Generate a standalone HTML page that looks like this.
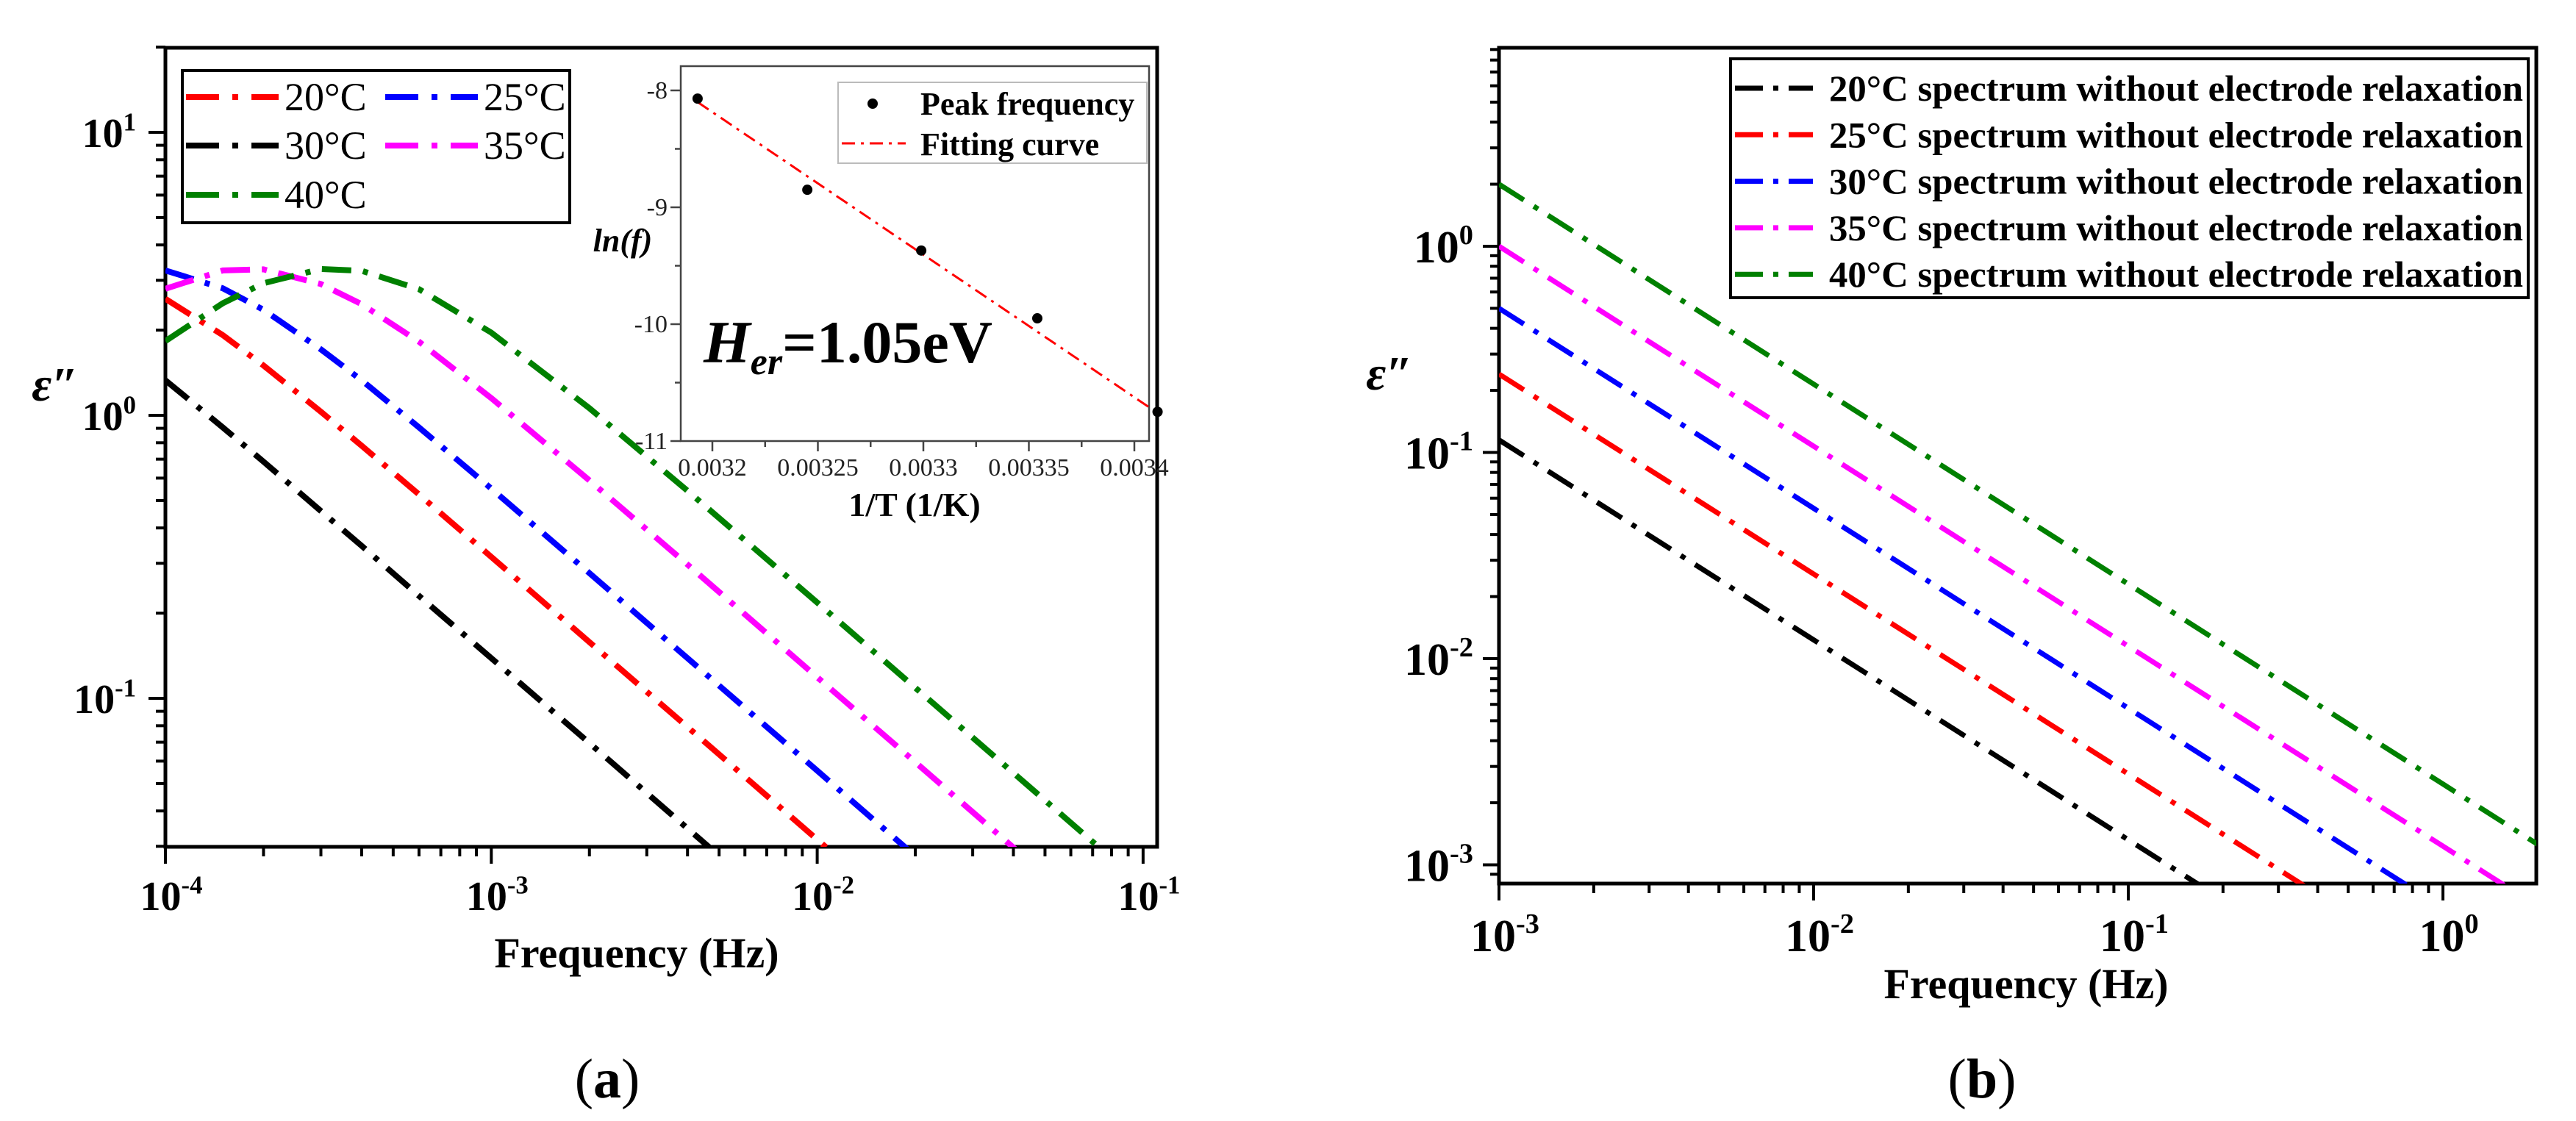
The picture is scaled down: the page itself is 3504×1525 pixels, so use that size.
<!DOCTYPE html>
<html><head><meta charset="utf-8"><style>
html,body{margin:0;padding:0;background:#fff;overflow:hidden;width:3504px;height:1525px;}
svg{display:block;font-family:"Liberation Serif",serif;}
</style></head><body>
<svg id="fig" width="3504" height="1525" viewBox="0 0 3504 1525" xmlns="http://www.w3.org/2000/svg">
<defs>
<clipPath id="clipA"><rect x="225" y="65" width="1349" height="1087"/></clipPath>
<clipPath id="clipB"><rect x="2039" y="65" width="1411" height="1137"/></clipPath>
</defs>
<g id="panelA"></g>
<g id="panelB"></g>
</svg>
<script>
// ---------- Panel (a) data ----------
const freqA = [1e-4,1.5e-4,2e-4,3e-4,4e-4,6e-4,1e-3,2e-3,4e-3,1e-2,2e-2,4e-2,1e-1];
const epsA20 = [2.58,1.92,1.50,1.03,0.781,0.525,0.316,0.158,0.0792,0.0317,0.0158,0.0079,0.0032];
const epsA25 = [3.25,2.81,2.36,1.71,1.33,0.906,0.551,0.277,0.1386,0.0555,0.0277,0.0139,0.0055];
const epsA30 = [1.33,0.906,0.686,0.459,0.346,0.230,0.1386,0.0695,0.0347,0.0139,0.0069,0.0035,0.0014];
const epsA35 = [2.80,3.25,3.28,2.91,2.47,1.82,1.15,0.589,0.297,0.1187,0.0595,0.0297,0.0119];
const epsA40 = [1.83,2.49,2.93,3.29,3.24,2.79,1.96,1.06,0.541,0.218,0.109,0.0545,0.0218];
const xTickExpA = [-4,-3,-2,-1];
const yTickExpA = [-1,0,1];
// inset data
const invT = [0.003193,0.003245,0.003299,0.003354,0.003411];
const lnF = [-8.07,-8.85,-9.37,-9.95,-10.75];
const fitT = [0.003193,0.003411];
const fitLn = [-8.10,-10.76];
const insetXTicks = ["0.0032","0.00325","0.0033","0.00335","0.0034"];
const insetYTicks = [-8,-9,-10,-11];
// ---------- Panel (b) data ----------
const freqB = [1e-3,1e-2,1e-1,1,2];
const epsB20 = [0.115,0.01233,0.001322,0.0001417,0.0000723];
const epsB25 = [0.24,0.02573,0.002758,0.0002957,0.0001508];
const epsB30 = [0.5,0.0536,0.005746,0.000616,0.000314];
const epsB35 = [1.0,0.1072,0.01149,0.001232,0.000628];
const epsB40 = [2.0,0.2144,0.02298,0.002464,0.001257];
const xTickExpB = [-3,-2,-1,0];
const yTickExpB = [-3,-2,-1,0];

const NS="http://www.w3.org/2000/svg";
function mk(tag,parent,attrs){const e=document.createElementNS(NS,tag);for(const k in attrs)e.setAttribute(k,attrs[k]);parent.appendChild(e);return e;}
const L10=Math.log10;
const DASH="40 16 7 16";

const xA=f=>225+443.3*(L10(f)+4);
const yA=v=>565-385*L10(v);
const xB=f=>2039+428*(L10(f)+3);
const yB=v=>335-280.5*L10(v);

function supLabel(parent,x,y,base,exp,size,anchor,name){
  const t=mk('text',parent,{x:x,y:y,'font-size':size,'font-weight':'bold','text-anchor':anchor,fill:'#000'});
  
  
  const a=mk('tspan',t,{});a.textContent=base;
  const b=mk('tspan',t,{dy:-size*0.4,'font-size':size*0.62});b.textContent=exp;
  return t;
}

// ================= PANEL A =================
const A=document.getElementById('panelA');
const axA=mk('g',A,{stroke:'#000','stroke-width':4});


for(let e=-4;e<=-1;e++){for(let m=1;m<10;m++){const f=m*Math.pow(10,e);const x=xA(f);if(x>1575)continue;
  mk('line',axA,{x1:x,y1:1152,x2:x,y2:m===1?1175:1165});}}
for(let e=-2;e<=1;e++){for(let m=1;m<10;m++){const v=m*Math.pow(10,e);const y=yA(v);if(y<64||y>1153)continue;
  mk('line',axA,{x1:225,y1:y,x2:m===1?202:212,y2:y});}}
mk('rect',axA,{x:225,y:65,width:1349,height:1087,fill:'none','stroke-width':5});
xTickExpA.forEach(e=>{supLabel(A,xA(Math.pow(10,e))+8,1238,'10',String(e),56,'middle','x-tick-label-a');});
yTickExpA.forEach(e=>{supLabel(A,185,yA(Math.pow(10,e))+20,'10',String(e),56,'end','y-tick-label-a');});
const ytA=mk('text',A,{x:75,y:545,'font-size':66,'font-weight':'bold','font-style':'italic','text-anchor':'middle'});


ytA.textContent='ε″';
const xtA=mk('text',A,{x:866,y:1316,'font-size':58,'font-weight':'bold','text-anchor':'middle'});


xtA.textContent='Frequency (Hz)';
const capA=mk('text',A,{x:826,y:1493,'font-size':76,'text-anchor':'middle'});


capA.innerHTML='(<tspan font-weight="bold">a</tspan>)';
const seriesA=[[epsA20,'#ff0000','20°C'],[epsA25,'#0000ff','25°C'],[epsA30,'#000000','30°C'],[epsA35,'#ff00ff','35°C'],[epsA40,'#008000','40°C']];
const gA=mk('g',A,{'clip-path':'url(#clipA)'});
seriesA.forEach(s=>{
  const d=freqA.map((f,i)=>(i?'L':'M')+xA(f).toFixed(1)+','+yA(s[0][i]).toFixed(1)).join(' ');
  const p=mk('path',gA,{d:d,fill:'none',stroke:s[1],'stroke-width':8,'stroke-dasharray':DASH});
  
  
});
const lgA=mk('g',A,{});


mk('rect',lgA,{x:248,y:96,width:527,height:207,fill:'#fff',stroke:'#000','stroke-width':4});
const legPos=[[253,132],[524,132],[253,198],[524,198],[253,265]];
[0,1,2,3,4].forEach((si,k)=>{const s=seriesA[si];const [lx,ly]=legPos[k];
  const ln=mk('line',lgA,{x1:lx,y1:ly,x2:lx+126,y2:ly,stroke:s[1],'stroke-width':8,'stroke-dasharray':'45 18 8 18'});
  
  
  const t=mk('text',lgA,{x:lx+134,y:ly+18,'font-size':54});
  
  
  t.textContent=s[2];
});
// inset
const IN=mk('g',A,{});


const xI=t=>969+(t-0.0032)/0.00005*143.5;
const yI=v=>123+(-8-v)*159;
mk('rect',IN,{x:926,y:90,width:637,height:510,fill:'#fff',stroke:'#444','stroke-width':2.5});
const tk=mk('g',IN,{stroke:'#444','stroke-width':2.5});
insetXTicks.forEach(s=>{const x=xI(parseFloat(s));mk('line',tk,{x1:x,y1:600,x2:x,y2:614});});
for(let i=0;i<4;i++){const x=xI(0.003225+i*0.00005);mk('line',tk,{x1:x,y1:600,x2:x,y2:608});}
insetYTicks.forEach(v=>{mk('line',tk,{x1:926,y1:yI(v),x2:912,y2:yI(v)});});
[-8.5,-9.5,-10.5].forEach(v=>{mk('line',tk,{x1:926,y1:yI(v),x2:918,y2:yI(v)});});
insetXTicks.forEach(s=>{const t=mk('text',IN,{x:xI(parseFloat(s)),y:647,'font-size':34,'text-anchor':'middle',fill:'#222'});
  
  
  t.textContent=s;});
insetYTicks.forEach(v=>{const t=mk('text',IN,{x:908,y:yI(v)+11,'font-size':34,'text-anchor':'end',fill:'#222'});
  
  
  t.textContent=String(v);});
const ixt=mk('text',IN,{x:1244,y:702,'font-size':46,'font-weight':'bold','text-anchor':'middle'});


ixt.textContent='1/T (1/K)';
const iyt=mk('text',IN,{x:847,y:342,'font-size':44,'font-weight':'bold','font-style':'italic','text-anchor':'middle'});


iyt.textContent='ln(f)';
const fit=mk('path',IN,{d:fitT.map((t,i)=>(i?'L':'M')+xI(t).toFixed(1)+','+yI(fitLn[i]).toFixed(1)).join(' '),stroke:'#ff0000','stroke-width':3,'stroke-dasharray':'18 8 4 8',fill:'none'});


invT.forEach((t,i)=>{const c=mk('circle',IN,{cx:xI(t),cy:yI(lnF[i]),r:7,fill:'#000'});
  
  });
const her=mk('text',IN,{x:957,y:493,'font-size':82,'font-weight':'bold'});


her.innerHTML='<tspan font-style="italic">H</tspan><tspan font-style="italic" font-size="52" dy="16">er</tspan><tspan dy="-16">=1.05eV</tspan>';
const ilg=mk('g',IN,{});


mk('rect',ilg,{x:1140,y:112,width:420,height:110,fill:'#fff',stroke:'#bbb','stroke-width':2});
mk('circle',ilg,{cx:1187,cy:141,r:7,fill:'#000'});
mk('line',ilg,{x1:1145,y1:195,x2:1232,y2:195,stroke:'#ff0000','stroke-width':3,'stroke-dasharray':'18 8 4 8'});
const il1=mk('text',ilg,{x:1252,y:156,'font-size':44,'font-weight':'bold'});il1.textContent='Peak frequency';


const il2=mk('text',ilg,{x:1252,y:211,'font-size':44,'font-weight':'bold'});il2.textContent='Fitting curve';



// ================= PANEL B =================
const B=document.getElementById('panelB');
const axB=mk('g',B,{stroke:'#000','stroke-width':4});


for(let e=-3;e<=0;e++){for(let m=1;m<10;m++){const f=m*Math.pow(10,e);const x=xB(f);if(x>3451)continue;
  mk('line',axB,{x1:x,y1:1202,x2:x,y2:m===1?1225:1215});}}
for(let e=-4;e<=0;e++){for(let m=1;m<10;m++){const v=m*Math.pow(10,e);const y=yB(v);if(y<64||y>1203)continue;
  mk('line',axB,{x1:2039,y1:y,x2:m===1?2017:2027,y2:y});}}
mk('rect',axB,{x:2039,y:65,width:1411,height:1137,fill:'none','stroke-width':5});
xTickExpB.forEach(e=>{supLabel(B,xB(Math.pow(10,e))+8,1294,'10',String(e),62,'middle','x-tick-label-b');});
yTickExpB.forEach(e=>{supLabel(B,2004,yB(Math.pow(10,e))+22,'10',String(e),62,'end','y-tick-label-b');});
const ytB=mk('text',B,{x:1890,y:530,'font-size':66,'font-weight':'bold','font-style':'italic','text-anchor':'middle'});


ytB.textContent='ε″';
const xtB=mk('text',B,{x:2756,y:1358,'font-size':58,'font-weight':'bold','text-anchor':'middle'});


xtB.textContent='Frequency (Hz)';
const capB=mk('text',B,{x:2696,y:1493,'font-size':76,'text-anchor':'middle'});


capB.innerHTML='(<tspan font-weight="bold">b</tspan>)';
const seriesB=[[epsB20,'#000000','20'],[epsB25,'#ff0000','25'],[epsB30,'#0000ff','30'],[epsB35,'#ff00ff','35'],[epsB40,'#008000','40']];
const gB=mk('g',B,{'clip-path':'url(#clipB)'});
seriesB.forEach(s=>{
  const d=freqB.map((f,i)=>(i?'L':'M')+xB(f).toFixed(1)+','+yB(s[0][i]).toFixed(1)).join(' ');
  const p=mk('path',gB,{d:d,fill:'none',stroke:s[1],'stroke-width':7,'stroke-dasharray':DASH});
  
  
});
const lgB=mk('g',B,{});


mk('rect',lgB,{x:2354,y:80,width:1085,height:325,fill:'#fff',stroke:'#000','stroke-width':4});
seriesB.forEach((s,k)=>{const ly=120+k*63.3;
  const ln=mk('line',lgB,{x1:2360,y1:ly,x2:2466,y2:ly,stroke:s[1],'stroke-width':7,'stroke-dasharray':'38 14 7 14'});
  
  
  const t=mk('text',lgB,{x:2488,y:ly+17,'font-size':50,'font-weight':'bold',textLength:944,lengthAdjust:'spacingAndGlyphs'});
  
  
  t.textContent=s[2]+'°C spectrum without electrode relaxation';
});
</script>
</body></html>
